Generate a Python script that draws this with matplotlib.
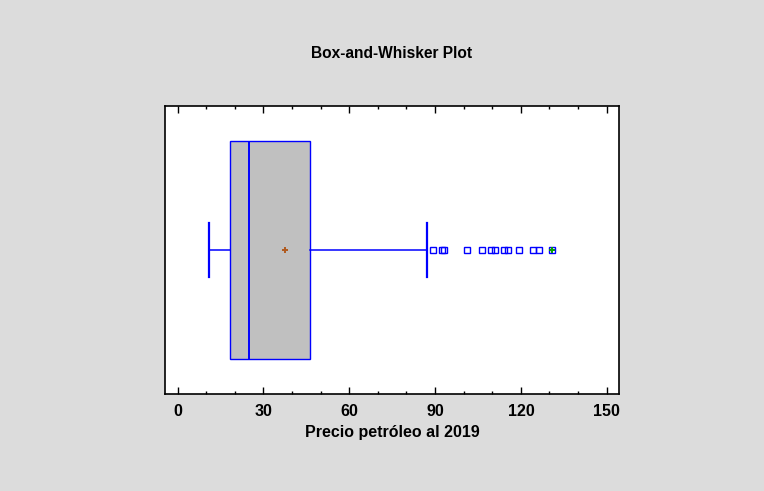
import numpy as np
import matplotlib
matplotlib.use('Agg')
import matplotlib.pyplot as plt

#-------------- DATA

whisker_lo = 10.9
q1         = 18.4
median     = 24.8
q3         = 46.4
whisker_hi = 87.2
mean_val   = 37.4
outliers   = [89.2, 92.3, 93.1, 101.0, 106.5, 109.5, 111.1, 114.2, 115.5,
              119.2, 124.3, 126.2, 131.0]
far_outliers = [131.0]

xticks = [0, 30, 60, 90, 120, 150]

#-------------- PLOT BOILERPLATE

plt.rcParams['font.family'] = ['Liberation Sans', 'DejaVu Sans']
bg = '#dcdcdc'
blue = '#0000ff'

fig = plt.figure(figsize=(7.64, 4.91), dpi=100, facecolor=bg)
ax = fig.add_axes([0.2166, 0.1969, 0.5932, 0.5878])

stats = [dict(whislo=whisker_lo, q1=q1, med=median, q3=q3, whishi=whisker_hi,
              mean=mean_val, fliers=outliers)]

ax.bxp(stats, positions=[0.5], widths=0.756, capwidths=0.185,
       orientation='horizontal', patch_artist=True, showmeans=True,
       boxprops=dict(facecolor='#c0c0c0', edgecolor=blue, linewidth=1.0),
       medianprops=dict(color=blue, linewidth=1.4),
       whiskerprops=dict(color=blue, linewidth=1.1),
       capprops=dict(color=blue, linewidth=1.6),
       meanprops=dict(marker='+', markeredgecolor='#b05a1e', markersize=5,
                      markeredgewidth=1.4),
       flierprops=dict(marker='s', markerfacecolor='none', markeredgecolor=blue,
                       markersize=5, markeredgewidth=1.0))

ax.plot(far_outliers, [0.5] * len(far_outliers), '+', color='#00a000',
        markersize=5, markeredgewidth=1.4)

ax.set_xlim(-4.27, 154.2)
ax.set_ylim(0, 1)
ax.set_yticks([])
ax.set_xticks(xticks)
ax.set_xticks(np.arange(0, 151, 10), minor=True)
ax.set_xticklabels([str(t) for t in xticks], fontsize=11.5, fontweight='bold')
ax.tick_params(axis='x', which='major', direction='in', top=True, length=5,
               width=1, pad=7)
ax.tick_params(axis='x', which='minor', direction='in', top=True, length=2.5,
               width=1)
for s in ax.spines.values():
    s.set_linewidth(1.2)

ax.set_xlabel('Precio petróleo al 2019', fontsize=11.5, fontweight='bold',
              labelpad=4)
fig.text(0.513, 0.892, 'Box-and-Whisker Plot', ha='center', va='center',
         fontsize=11.2, fontweight='bold')

plt.savefig('out.png', dpi=100, facecolor=bg)
